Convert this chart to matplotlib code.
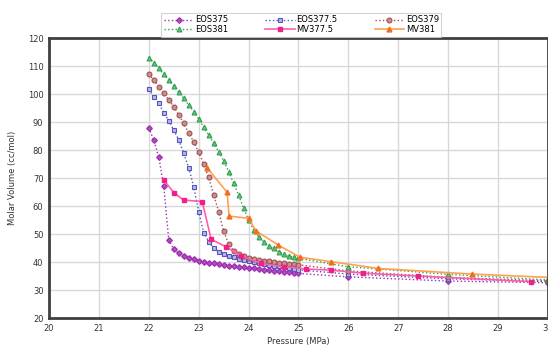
import numpy as np
import matplotlib
matplotlib.use("Agg")
import matplotlib.pyplot as plt

plt.rcParams['font.family'] = ['DejaVu Sans']

# EOS curves: dense 0.1 MPa steps from 22 to 25, then sparse points
p_eos = [22.0, 22.1, 22.2, 22.3, 22.4, 22.5, 22.6, 22.7, 22.8, 22.9,
         23.0, 23.1, 23.2, 23.3, 23.4, 23.5, 23.6, 23.7, 23.8, 23.9,
         24.0, 24.1, 24.2, 24.3, 24.4, 24.5, 24.6, 24.7, 24.8, 24.9,
         25.0, 26.0, 28.0, 30.0]

eos375 = [88.0, 83.5, 77.5, 67.0, 48.0, 44.5, 43.2, 42.3, 41.6, 41.0,
          40.5, 40.1, 39.8, 39.5, 39.2, 38.9, 38.7, 38.5, 38.3, 38.1,
          37.9, 37.7, 37.5, 37.3, 37.1, 36.9, 36.7, 36.5, 36.3, 36.1,
          35.9, 34.7, 33.2, 32.6]

eos3775 = [101.7, 99.0, 96.7, 93.3, 90.5, 87.1, 83.6, 78.8, 73.7, 66.9,
           58.0, 50.5, 47.3, 45.0, 43.7, 43.0, 42.3, 41.7, 41.2, 40.7,
           40.3, 39.9, 39.6, 39.3, 39.0, 38.7, 38.4, 38.1, 37.8, 37.5,
           37.2, 35.7, 34.0, 33.0]

eos379 = [107.1, 105.0, 102.6, 100.2, 97.9, 95.5, 92.5, 89.5, 86.0, 83.0,
          79.2, 75.0, 70.2, 64.0, 58.0, 51.0, 46.5, 44.0, 42.8, 42.0,
          41.5, 41.1, 40.8, 40.5, 40.2, 40.0, 39.8, 39.6, 39.4, 39.2,
          39.0, 36.8, 34.5, 33.3]

eos381 = [113.0, 111.2, 109.2, 107.0, 105.0, 102.9, 100.6, 98.5, 96.1, 93.7,
          91.1, 88.1, 85.4, 82.4, 79.4, 76.2, 72.3, 68.1, 63.9, 59.2,
          55.0, 51.5, 49.0, 47.3, 45.7, 44.9, 43.7, 42.9, 42.1, 41.7,
          41.3, 38.3, 35.6, 33.6]

# measured values
p_mv3775 = [22.3, 22.5, 22.7, 23.07, 23.25, 23.55, 23.85, 24.25, 24.7,
            25.15, 25.65, 26.3, 27.4, 29.65]
mv3775 = [69.3, 64.8, 62.1, 61.6, 48.1, 45.4, 42.1, 39.5, 38.3,
          37.5, 37.1, 36.0, 35.0, 33.0]

p_mv381 = [23.17, 23.57, 23.61, 24.0, 24.14, 24.59, 25.03, 25.66, 26.6,
           28.47, 30.4]
mv381 = [73.6, 64.9, 56.4, 55.6, 51.2, 46.1, 41.7, 40.1, 37.7,
         35.7, 34.2]

fig = plt.figure(figsize=(5.48, 3.5), dpi=100)
ax = fig.add_axes([0.0894, 0.0914, 0.9106, 0.80])

h1, = ax.plot(p_eos, eos375, linestyle=':', color='#A030B0', lw=1.0, marker='D',
              ms=2.8, mfc='#B050C0', mec='#A030B0', label='EOS375')
h2, = ax.plot(p_eos, eos3775, linestyle=':', color='#5555C0', lw=1.0, marker='s',
              ms=3.5, mfc='#B8B8E8', mec='#5555C0', mew=0.8, label='EOS377.5')
h3, = ax.plot(p_eos, eos379, linestyle=':', color='#A05050', lw=1.0, marker='o',
              ms=3.5, mfc='#C89090', mec='#A05050', mew=0.8, label='EOS379')
h4, = ax.plot(p_eos, eos381, linestyle=':', color='#30A050', lw=1.0, marker='^',
              ms=3.5, mfc='#70C080', mec='#30A050', mew=0.8, label='EOS381')
h5, = ax.plot(p_mv3775, mv3775, linestyle='-', color='#FF5CB0', lw=1.2, marker='s',
              ms=3.5, mfc='#F0208A', mec='#F0208A', label='MV377.5')
h6, = ax.plot(p_mv381, mv381, linestyle='-', color='#FFA050', lw=1.2, marker='^',
              ms=3.5, mfc='#F07020', mec='#F07020', label='MV381')

ax.set_xlim(20, 30)
ax.set_ylim(20, 120)
ax.set_xticks(range(20, 31))
ax.set_yticks(range(20, 121, 10))
ax.grid(True, color='#D8D8D8', lw=1.0)
ax.set_axisbelow(True)
for s in ax.spines.values():
    s.set_linewidth(2)
    s.set_color('#404040')
ax.tick_params(length=0, labelsize=6, labelcolor='#333333', pad=4)

ax.set_xlabel('Pressure (MPa)', fontsize=6, color='#333333', labelpad=3)
ax.set_ylabel('Molar Volume (cc/mol)', fontsize=6, color='#333333', labelpad=8)

# row-wise order like the original legend
handles = [h1, h4, h2, h5, h3, h6]
leg = fig.legend(handles, [h.get_label() for h in handles],
                 loc='upper center', bbox_to_anchor=(0.55, 0.975), ncol=3,
                 fontsize=6, frameon=True, fancybox=False, edgecolor='#C8C8C8',
                 handlelength=3.5, columnspacing=4.5, labelspacing=0.1,
                 borderpad=0.3, handletextpad=0.2)
leg.get_frame().set_linewidth(0.8)

fig.savefig('out.png', dpi=100)
